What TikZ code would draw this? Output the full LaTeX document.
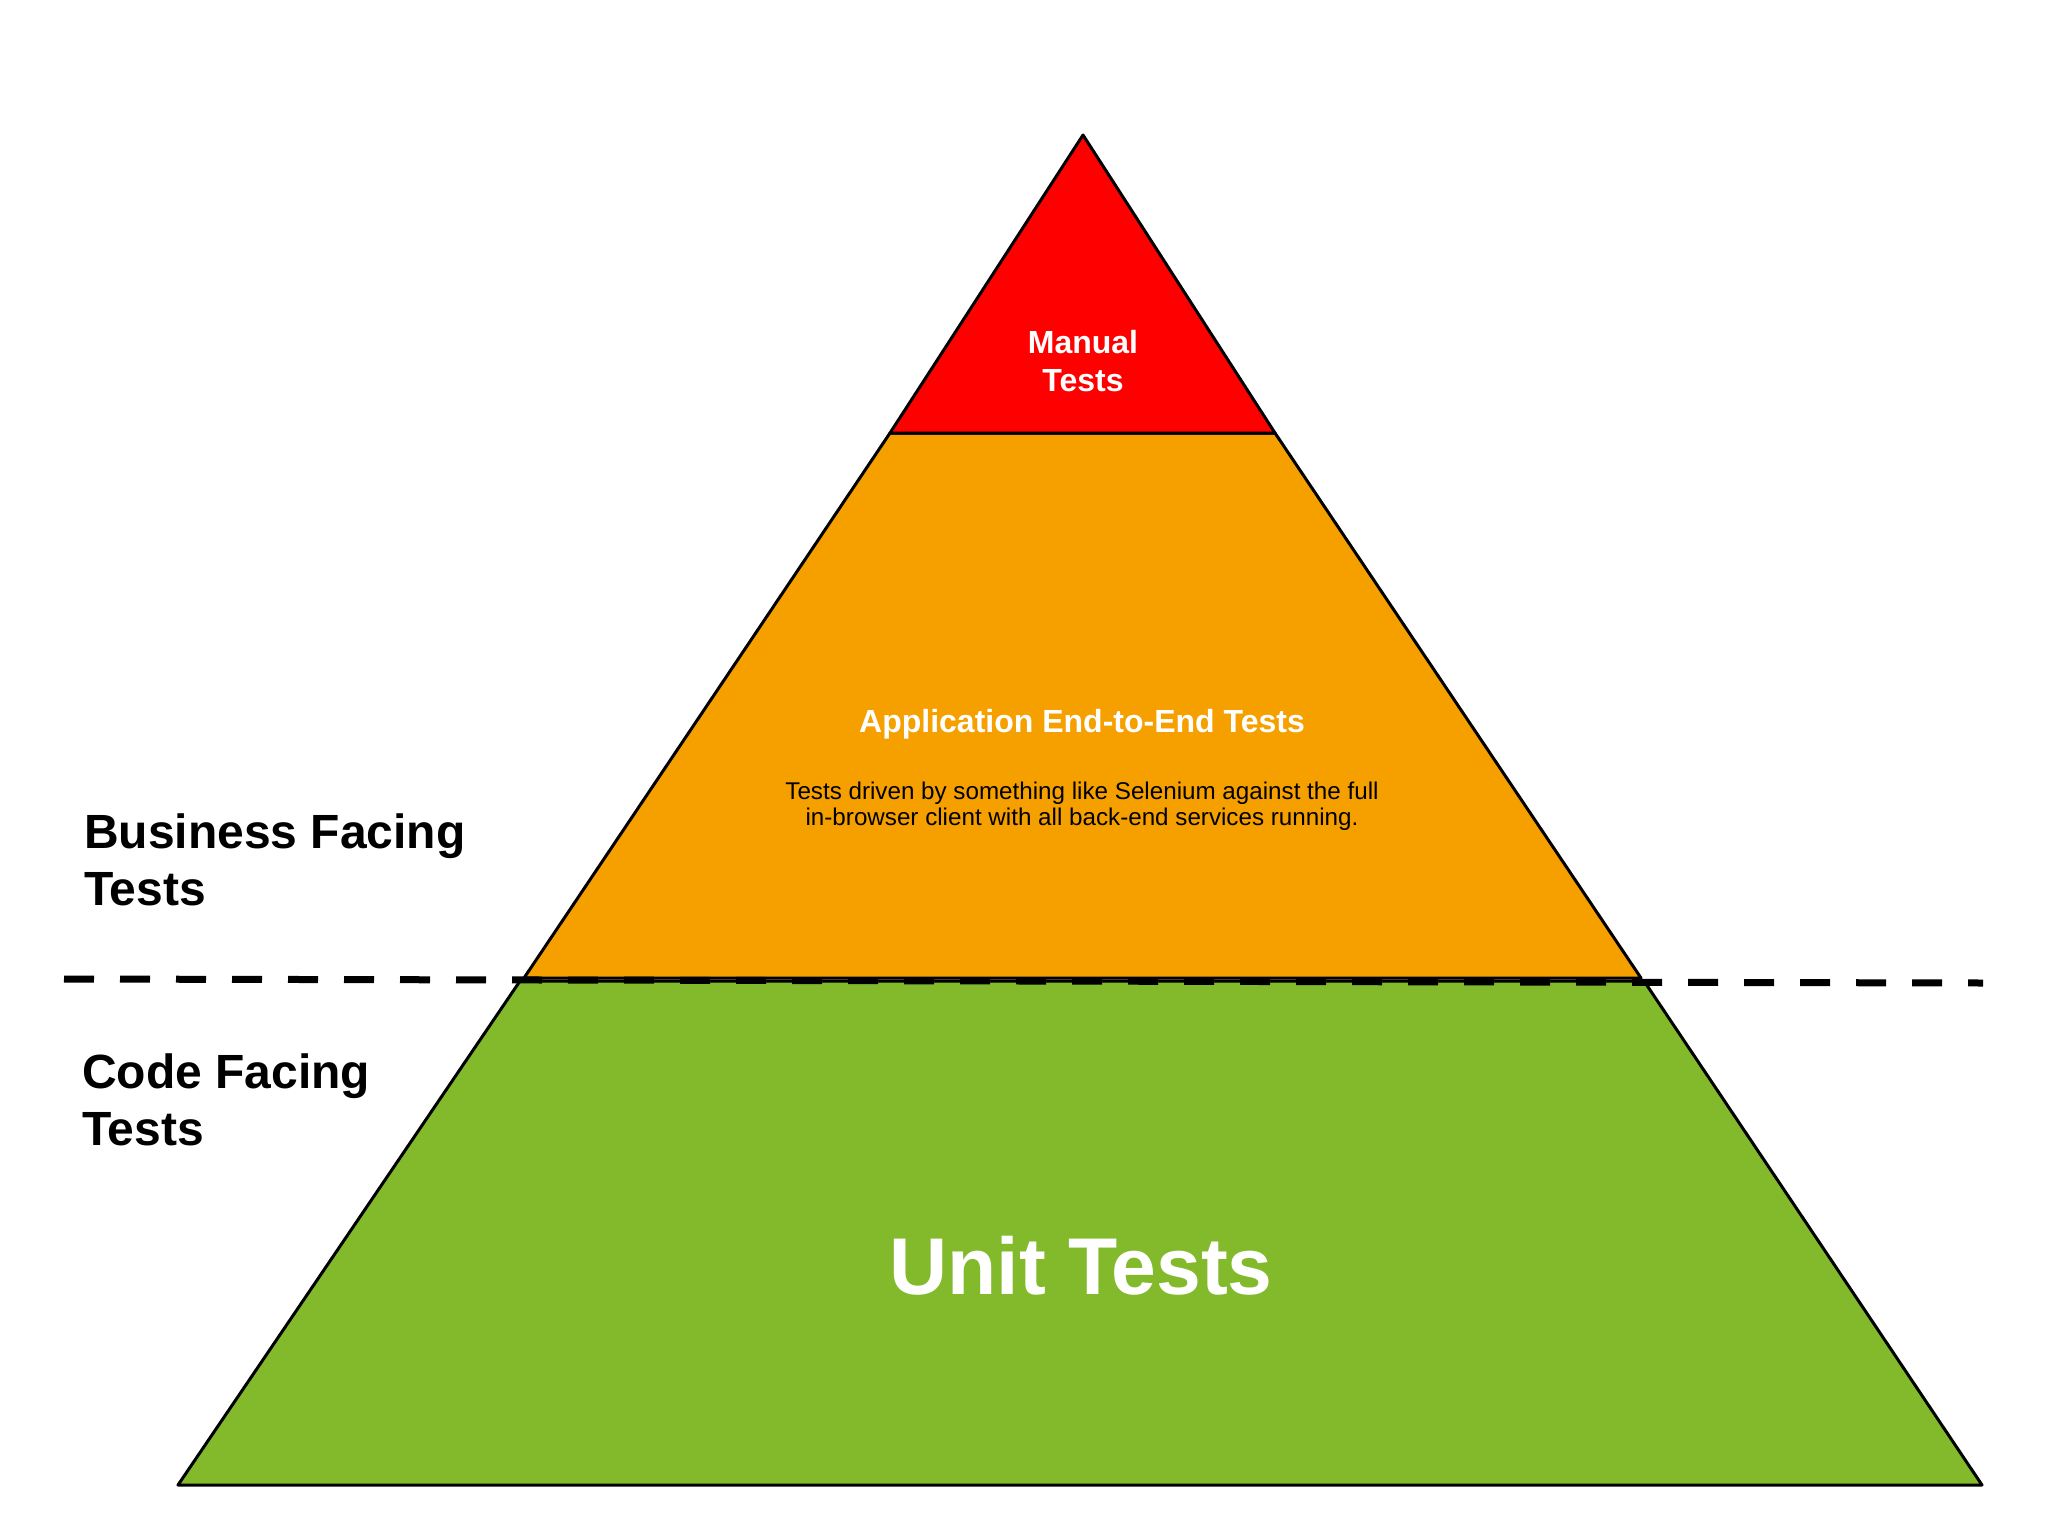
\documentclass[tikz,border=0pt]{standalone}
\usepackage{fontspec}
\setmainfont{Liberation Sans}
\definecolor{pyrred}{RGB}{255,0,0}
\definecolor{pyrorange}{RGB}{246,160,0}
\definecolor{pyrgreen}{RGB}{131,186,44}
\begin{document}
\begin{tikzpicture}[x=1pt,y=-1pt,
  tier/.style={draw=black,line width=3pt,line join=round},
  whitebold/.style={text=white,font=\bfseries,inner sep=0pt,anchor=base},
  sidelabel/.style={text=black,font=\bfseries\fontsize{48}{57}\selectfont,inner sep=0pt,anchor=base west},
  desc/.style={text=black,font=\fontsize{24.2}{27}\selectfont,inner sep=0pt,anchor=base},
  divider/.style={line width=7pt,dash pattern=on 30pt off 26pt}]
\useasboundingbox (0,0) rectangle (2048,1536);
\fill[white] (0,0) rectangle (2048,1536);
% tiers
\coordinate (apex) at (1083,135);
\coordinate (r1) at (1275,433);
\coordinate (l1) at (890,433);
\coordinate (r2) at (1641,978);
\coordinate (l2) at (524,978);
\coordinate (gl) at (520,981);
\coordinate (gr) at (1644,981);
\coordinate (br) at (1982,1485);
\coordinate (bl) at (178,1485);
\draw[tier,fill=pyrgreen] (gl) -- (gr) -- (br) -- (bl) -- cycle;
\draw[tier,fill=pyrorange] (l1) -- (r1) -- (r2) -- (l2) -- cycle;
\draw[tier,fill=pyrred] (apex) -- (r1) -- (l1) -- cycle;
% divider
\coordinate (dl) at (64,979);
\coordinate (dr) at (1983,983);
\draw[divider] (dl) -- (dr);
% texts
\node[whitebold,font=\bfseries\fontsize{32}{38}\selectfont] (man1) at (1083,353) {Manual};
\node[whitebold,font=\bfseries\fontsize{32}{38}\selectfont] (man2) at (1083,391) {Tests};
\node[whitebold,font=\bfseries\fontsize{32}{38}\selectfont] (app) at (1082,732) {Application End-to-End Tests};
\node[desc] (d1) at (1082,799) {Tests driven by something like Selenium against the full};
\node[desc] (d2) at (1082,825) {in-browser client with all back-end services running.};
\node[whitebold,font=\bfseries\fontsize{80.5}{90}\selectfont] (unit) at (1081,1294) {Unit Tests};
\node[sidelabel] (bf1) at (84,848) {Business Facing};
\node[sidelabel] (bf2) at (84,905) {Tests};
\node[sidelabel] (cf1) at (82,1088) {Code Facing};
\node[sidelabel] (cf2) at (82,1145) {Tests};
\end{tikzpicture}
\end{document}
